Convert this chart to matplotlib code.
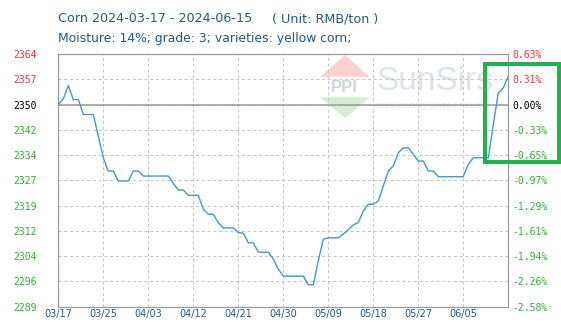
import numpy as np
import matplotlib
matplotlib.use("Agg")
import matplotlib.pyplot as plt
from matplotlib.patches import Rectangle, Polygon

# daily corn price, 03/17 .. 06/15 (91 days)
prices = [2350.0, 2351.7, 2355.7, 2351.5, 2351.5, 2347.0, 2347.0, 2347.0, 2340.5, 2334.0,
          2330.0, 2330.0, 2327.0, 2327.0, 2327.0, 2330.0, 2330.0, 2328.5, 2328.5, 2328.5,
          2328.5, 2328.5, 2328.5, 2326.3, 2324.3, 2324.3, 2322.7, 2322.7, 2322.7, 2318.5,
          2317.0, 2317.0, 2314.5, 2312.9, 2312.9, 2312.9, 2311.5, 2311.3, 2308.4, 2308.4,
          2305.6, 2305.6, 2305.6, 2303.5, 2300.5, 2298.4, 2298.4, 2298.4, 2298.4, 2298.4,
          2295.8, 2295.8, 2303.0, 2309.5, 2309.9, 2309.9, 2309.9, 2311.0, 2312.4, 2313.8,
          2314.5, 2318.0, 2320.0, 2320.0, 2321.0, 2325.5, 2330.0, 2331.5, 2335.5, 2337.0,
          2337.0, 2335.0, 2333.0, 2333.0, 2330.0, 2330.0, 2328.3, 2328.3, 2328.3, 2328.3,
          2328.3, 2328.3, 2332.0, 2334.0, 2334.0, 2334.0, 2334.0, 2344.0, 2353.5, 2355.0,
          2358.5]
days = np.arange(len(prices))

x_labels = ["03/17", "03/25", "04/03", "04/12", "04/21", "04/30", "05/09", "05/18", "05/27", "06/05"]
y_labels = ["2289", "2296", "2304", "2312", "2319", "2327", "2334", "2342", "2350", "2357", "2364"]
pct_labels = ["-2.58%", "-2.26%", "-1.94%", "-1.61%", "-1.29%", "-0.97%", "-0.65%", "-0.33%",
              "0.00%", "0.31%", "0.63%"]

base = 2350
step = 7.6
W, H = 561, 332

fig = plt.figure(figsize=(W / 100, H / 100), dpi=100)
ax = fig.add_axes([58.3 / W, 1 - 306.7 / H, 450 / W, (306.7 - 54) / H])
ax.set_facecolor("none")

yticks = base + step * np.arange(-8, 3)
ax.set_ylim(yticks[0], yticks[-1])
ax.set_xlim(0, 90)
ax.set_xticks(np.arange(0, 90, 9))
ax.set_xticklabels(x_labels, fontsize=7, color="#1e5b8c")
ax.set_yticks(yticks)
ax.set_yticklabels(y_labels, fontsize=7, family="DejaVu Sans Mono")
ax.tick_params(length=0)
ax.tick_params(axis="y", pad=15.8)
ax.tick_params(axis="x", pad=2)

colors = ["#2db52d"] * 8 + ["black"] + ["#ff3030"] * 2
for lab, c in zip(ax.get_yticklabels(), colors):
    lab.set_color(c)

ax2 = ax.twinx()
ax2.set_ylim(ax.get_ylim())
ax2.set_yticks(yticks)
ax2.set_yticklabels(pct_labels, fontsize=7, family="DejaVu Sans Mono")
ax2.tick_params(length=0, pad=3)
for lab, c in zip(ax2.get_yticklabels(), colors):
    lab.set_color(c)

for a in (ax, ax2):
    for s in a.spines.values():
        s.set_color("#999999")
        s.set_linewidth(0.8)

ax.grid(True, color="#c8c8c8", linestyle=(0, (3, 2.5)), linewidth=0.75)
ax.axhline(base, color="#999999", linewidth=1.1, zorder=1.6)

ax.plot(days, prices, color="#3b9ad9", linewidth=1.0, zorder=3)

# watermark (pixel coordinates)
def px(x, y):
    return (x / W, 1 - y / H)

pink = Polygon([px(320, 76.7), px(345, 55), px(369.3, 76.7)], closed=True,
               transform=fig.transFigure, facecolor="#fad0d3", edgecolor="none", zorder=1)
green = Polygon([px(320, 97.3), px(370, 97.3), px(345, 118)], closed=True,
                transform=fig.transFigure, facecolor="#d6ecd7", edgecolor="none", zorder=1)
ax.add_patch(pink)
ax.add_patch(green)
ax.text(*px(344.5, 87.5), "PPI", transform=fig.transFigure, ha="center", va="center",
        fontsize=12, family="Liberation Sans", fontweight="bold", color="#d0d6e4", zorder=1)
ax.text(*px(376, 82), "SunSirs", transform=fig.transFigure, ha="left", va="center",
        fontsize=24, family="Liberation Sans", color="#dfe4ea", zorder=1)
ax.text(*px(376, 106), "COMMODITY DATA GROUP", transform=fig.transFigure, ha="left", va="center",
        fontsize=6, family="Liberation Sans", color="#e6e9ee", zorder=1)

# titles
fig.text(58 / W, 1 - 19 / H, "Corn 2024-03-17 - 2024-06-15", fontsize=9.2,
         color="#1e5b8c", va="center", ha="left")
fig.text(272 / W, 1 - 19 / H, "( Unit: RMB/ton )", fontsize=9.2,
         color="#1e5b8c", va="center", ha="left")
fig.text(58 / W, 1 - 38.5 / H, "Moisture: 14%; grade: 3; varieties: yellow corn;", fontsize=8.9,
         color="#1e5b8c", va="center", ha="left")

# green highlight box
box = Rectangle((485.3 / W, 1 - 162 / H), 73.4 / W, 97.7 / H, transform=fig.transFigure,
                fill=False, edgecolor="#22b14c", linewidth=2.9, zorder=10)
fig.patches.append(box)

fig.savefig("out.png", dpi=100)
